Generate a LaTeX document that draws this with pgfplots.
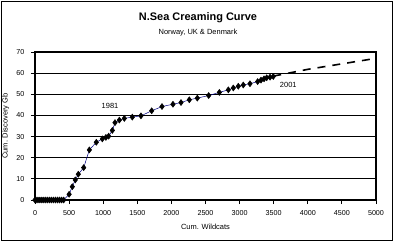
\documentclass[border=0pt]{standalone}
\usepackage{pgfplots}
\pgfplotsset{compat=1.18}
\usepackage{fontspec}
\setmainfont{Liberation Sans}
\definecolor{navyline}{RGB}{0,0,128}
\begin{document}
\begin{tikzpicture}[x=1bp,y=1bp]
\useasboundingbox (-35,-43) rectangle (359,200);
\draw[line width=0.8bp] (-34,-40) rectangle (357,199);
\node[font=\bfseries\fontsize{11}{13}\selectfont] at (163,182) {N.Sea Creaming Curve};
\node[font=\fontsize{7.5}{9}\selectfont] at (163,167) {Norway, UK \& Denmark};
\begin{axis}[
  at={(0,0)}, anchor=south west,
  scale only axis, width=341bp, height=148bp,
  xmin=0, xmax=5000, ymin=0, ymax=70,
  xtick={0,500,...,5000}, ytick={0,10,...,70},
  axis line style={line width=1.6bp},
  ymajorgrids, grid style={black, line width=1bp},
  tick align=outside, major tick length=4bp,
  tick style={black, line width=0.9bp},
  xtick pos=bottom, ytick pos=left,
  ticklabel style={font=\fontsize{7.2}{8}\selectfont},
  xticklabel style={yshift=-3bp},
  yticklabel style={xshift=-3bp},
  /pgf/number format/assume math mode=true,
  scaled ticks=false, xticklabel style={/pgf/number format/1000 sep={}},
  xlabel={Cum. Wildcats}, ylabel={Cum. Discovery Gb},
  label style={font=\fontsize{7.5}{9}\selectfont},
  xlabel style={yshift=-2bp},
  ylabel style={yshift=0.5bp},
  clip=false,
]
\addplot[navyline, line width=0.5bp, mark=diamond*, mark size=3bp,
  mark options={fill=black, draw=black, solid}] coordinates {
(0,0) (30,0) (60,0) (90,0) (120,0) (150,0) (180,0) (210,0) (240,0) (270,0) (300,0) (330,0) (360,0) (390,0) (420,0)
(500,2.7) (547,6.3) (591,9.5) (635,12.2) (714,15.3) (797,23.7) (899,27.3) (987,28.9)
(1040,29.6) (1080,30.2) (1134,32.9) (1173,36.6) (1237,37.8) (1310,38.6) (1427,39.2) (1554,39.8)
(1711,42.2) (1862,44.2) (2023,45.3) (2141,46.1) (2263,47.4) (2380,48.2) (2547,49.4)
(2703,50.9) (2835,52.1) (2908,53.0) (2981,53.8) (3054,54.4) (3152,55.0) (3265,56.0)
(3314,56.7) (3358,57.3) (3397,57.8) (3446,58.1) (3494,58.4)
};
\addplot[black, line width=1.6bp, dash pattern=on 8bp off 7bp] coordinates {
(3494,58.6) (4000,61.8) (4500,64.4) (5000,67)
};
\node[font=\fontsize{7.5}{9}\selectfont] at (axis cs:1100,44.5) {1981};
\node[font=\fontsize{7.5}{9}\selectfont] at (axis cs:3714,54.2) {2001};
\end{axis}
\end{tikzpicture}
\end{document}
